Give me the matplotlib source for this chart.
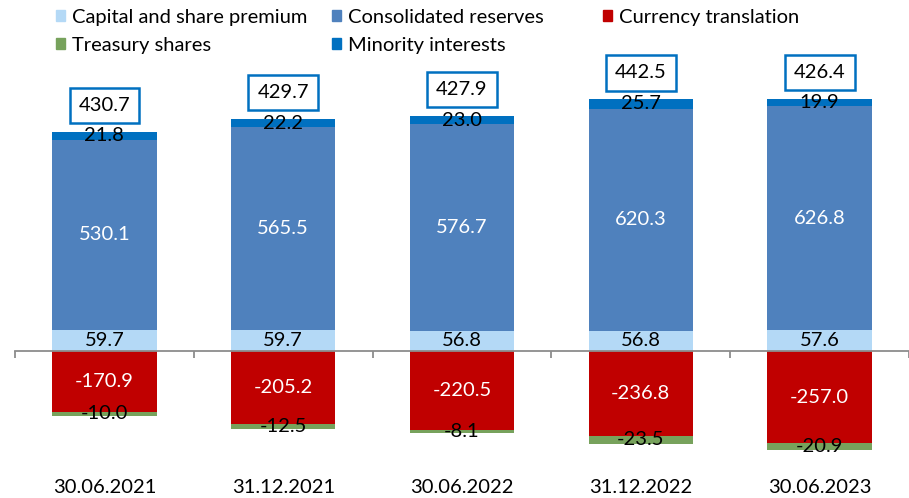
import numpy as np
import matplotlib
matplotlib.use("Agg")
import matplotlib.pyplot as plt
from matplotlib.patches import Patch

plt.rcParams['font.family'] = ['Lato', 'DejaVu Sans']

# data (EUR m)
dates = ['30.06.2021', '31.12.2021', '30.06.2022', '31.12.2022', '30.06.2023']
capital = [59.7, 59.7, 56.8, 56.8, 57.6]
reserves = [530.1, 565.5, 576.7, 620.3, 626.8]
currency = [-170.9, -205.2, -220.5, -236.8, -257.0]
treasury = [-10.0, -12.5, -8.1, -23.5, -20.9]
minority = [21.8, 22.2, 23.0, 25.7, 19.9]

c_cap = '#B4D9F6'
c_res = '#4F81BD'
c_cur = '#C00000'
c_tre = '#77A25C'
c_min = '#0070C0'

fs = 14.5
W, H = 909, 498
fig = plt.figure(figsize=(W / 100, H / 100), dpi=100)
ax = fig.add_axes([15 / W, 0, (W - 15) / W, 1])

x = np.arange(len(dates))
capital = np.array(capital)
reserves = np.array(reserves)
currency = np.array(currency)
treasury = np.array(treasury)
minority = np.array(minority)
bw = 0.584

b_cap = ax.bar(x, capital, bw, color=c_cap, zorder=2)
b_res = ax.bar(x, reserves, bw, bottom=capital, color=c_res, zorder=2)
b_min = ax.bar(x, minority, bw, bottom=capital + reserves, color=c_min, zorder=2)
b_cur = ax.bar(x, currency, bw, color=c_cur, zorder=2)
b_tre = ax.bar(x, treasury, bw, bottom=currency, color=c_tre, zorder=2)

ax.bar_label(b_cap, fmt='%.1f', label_type='center', fontsize=fs, color='black')
ax.bar_label(b_res, fmt='%.1f', label_type='center', fontsize=fs, color='white')
ax.bar_label(b_min, fmt='%.1f', label_type='center', fontsize=fs, color='black')
ax.bar_label(b_cur, fmt='%.1f', label_type='center', fontsize=fs, color='white')
ax.bar_label(b_tre, fmt='%.1f', label_type='center', fontsize=fs, color='black')

# totals in boxes above the bars
totals = capital + reserves + currency + treasury + minority
tops = capital + reserves + minority
for xi, top, tot in zip(x, tops, totals):
    ax.annotate(f'{tot:.1f}', (xi, top), xytext=(0, 19), textcoords='offset points',
                ha='center', va='center', fontsize=fs, color='black',
                bbox=dict(boxstyle='square,pad=0.45', fc='white', ec=c_min, lw=1.8))

ax.set_xlim(-0.5, (W - 15) / 181.5 - 0.5)
ax.set_ylim(-410.6, 980.4)

for s in ['top', 'right', 'left']:
    ax.spines[s].set_visible(False)
ax.spines['bottom'].set_position(('data', 0))
ax.spines['bottom'].set_color('#8C8C8C')
ax.spines['bottom'].set_linewidth(1.3)
ax.spines['bottom'].set_zorder(3)
ax.set_yticks([])
ax.set_xticks(x)
ax.set_xticklabels(dates, fontsize=fs)
ax.tick_params(axis='x', which='major', length=0, pad=92)
ax.set_xticks(np.arange(len(dates) + 1) - 0.5, minor=True)
ax.tick_params(axis='x', which='minor', length=5, width=1.3, color='#8C8C8C')

# legend laid out in three columns like the original
cols = [
    ([Patch(color=c_cap), Patch(color=c_tre)], ['Capital and share premium', 'Treasury shares'], 56),
    ([Patch(color=c_res), Patch(color=c_min)], ['Consolidated reserves', 'Minority interests'], 332),
    ([Patch(color=c_cur)], ['Currency translation'], 603),
]
for handles, labels, px in cols:
    fig.legend(handles, labels, loc='upper left', bbox_to_anchor=(px / W, 1 - 9 / H),
               frameon=False, fontsize=fs, handlelength=0.46, handleheight=0.46,
               handletextpad=0.35, labelspacing=0.55, borderpad=0, borderaxespad=0)

fig.savefig('out.png', dpi=100)
